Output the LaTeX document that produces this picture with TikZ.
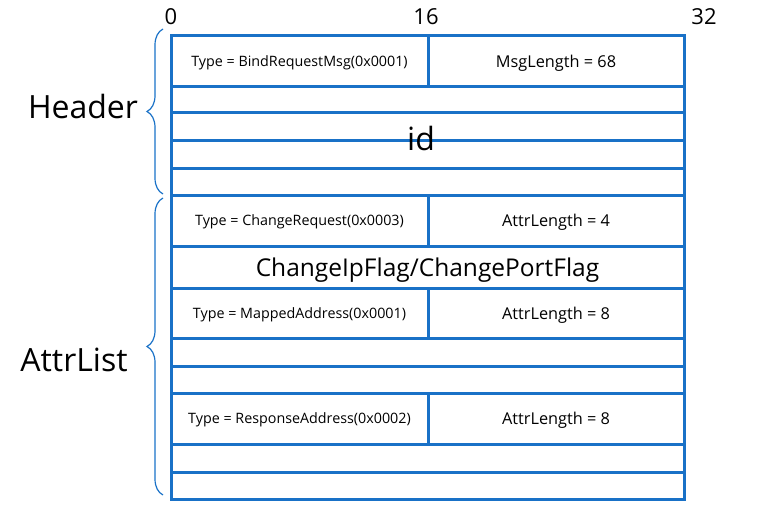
\documentclass[tikz,border=0pt]{standalone}
\usepackage{fontspec}
\setmainfont{Open Sans}
\usetikzlibrary{decorations.pathreplacing}
\definecolor{fieldblue}{RGB}{25,113,199}
\tikzset{
  cell/.style={draw=fieldblue, line width=3pt, anchor=north west, inner sep=0pt,
    outer sep=0pt, text depth=0pt, font=\fontsize{14.3}{16}\selectfont},
  widecell/.style={cell, minimum width=513pt},
  leftcell/.style={cell, minimum width=257pt},
  rightcell/.style={cell, minimum width=256pt},
  lenfont/.style={font=\fontsize{16.3}{18}\selectfont},
  bitlabel/.style={anchor=base, font=\fontsize{22}{24}\selectfont},
  grouplabel/.style={anchor=base, font=\fontsize{32}{36}\selectfont},
  groupbrace/.style={draw=fieldblue, line width=1.2pt, decorate,
    decoration={brace, amplitude=16pt}},
}
\begin{document}
\begin{tikzpicture}[x=1pt, y=-1pt]
  \useasboundingbox (0,0) rectangle (760,524);

  % bit positions
  \node[bitlabel] (b0)  at (171,25) {0};
  \node[bitlabel] (b16) at (426,25) {16};
  \node[bitlabel] (b32) at (704,25) {32};

  % header words
  \node[leftcell,  minimum height=51pt] (msgtype) at (171,36) {Type = BindRequestMsg(0x0001)};
  \node[rightcell, minimum height=51pt, lenfont] (msglen)  at (428,36) {MsgLength = 68};
  \node[widecell, minimum height=26pt] (id1) at (171,87)  {};
  \node[widecell, minimum height=28pt] (id2) at (171,113) {};
  \node[widecell, minimum height=27pt] (id3) at (171,141) {};
  \node[widecell, minimum height=27pt] (id4) at (171,168) {};
  \node[font=\fontsize{32}{36}\selectfont] (idtext) at (421,138) {id};

  % attribute: change request
  \node[leftcell,  minimum height=51pt] (crtype) at (171,195) {Type = ChangeRequest(0x0003)};
  \node[rightcell, minimum height=51pt, lenfont] (crlen)  at (428,195) {AttrLength = 4};
  \node[widecell,  minimum height=42pt, font=\fontsize{24.5}{27}\selectfont] (crflag) at (171,246) {ChangeIpFlag/ChangePortFlag};

  % attribute: mapped address
  \node[leftcell,  minimum height=50pt] (matype) at (171,288) {Type = MappedAddress(0x0001)};
  \node[rightcell, minimum height=50pt, lenfont] (malen)  at (428,288) {AttrLength = 8};
  \node[widecell, minimum height=28pt] (ma1) at (171,338) {};
  \node[widecell, minimum height=27pt] (ma2) at (171,366) {};

  % attribute: response address
  \node[leftcell,  minimum height=51pt] (ratype) at (171,393) {Type = ResponseAddress(0x0002)};
  \node[rightcell, minimum height=51pt, lenfont] (ralen)  at (428,393) {AttrLength = 8};
  \node[widecell, minimum height=28pt] (ra1) at (171,444) {};
  \node[widecell, minimum height=27pt] (ra2) at (171,472) {};

  % group braces
  \coordinate (hbot) at (163,194);
  \coordinate (htop) at (163,29);
  \coordinate (abot) at (163,495);
  \coordinate (atop) at (163,198);
  \draw[groupbrace] (hbot) -- (htop);
  \draw[groupbrace] (abot) -- (atop);
  \node[grouplabel] (header)   at (83,119) {Header};
  \node[grouplabel] (attrlist) at (74,371) {AttrList};
\end{tikzpicture}
\end{document}
